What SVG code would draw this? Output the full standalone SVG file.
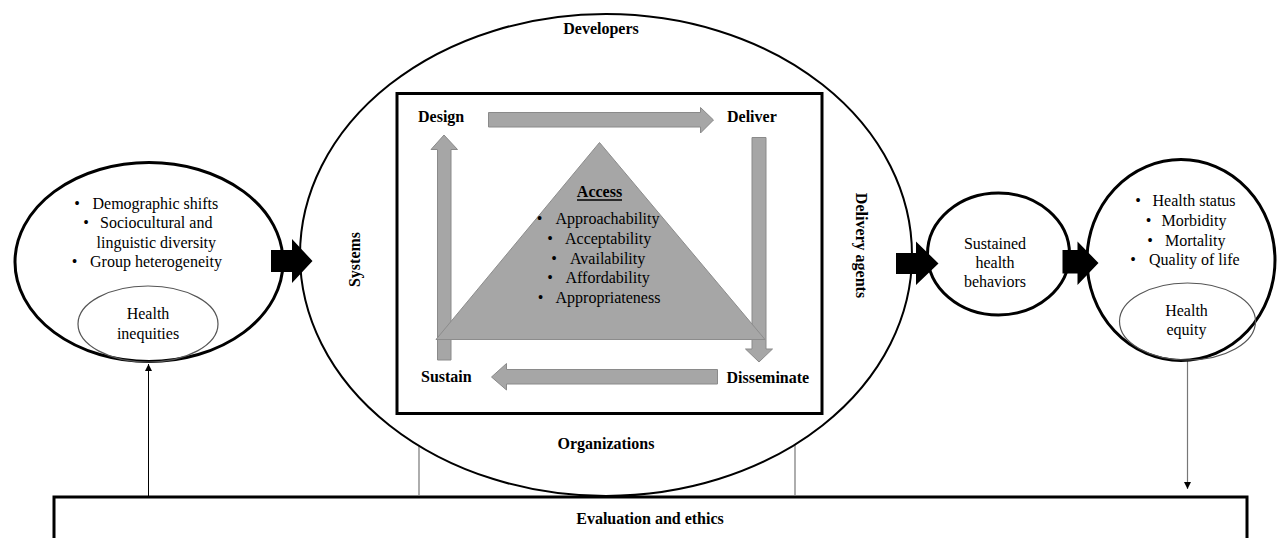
<svg xmlns="http://www.w3.org/2000/svg" width="1277" height="538" viewBox="0 0 1277 538">
  <style>
    text { font-family: "Liberation Serif", "Times New Roman", serif; font-size: 16px; fill: #000; }
    .b { font-weight: bold; }
    .m { text-anchor: middle; }
    .outer { fill: none; stroke: #000; stroke-width: 3; }
    .thin { fill: none; stroke: #555; stroke-width: 1.2; }
    .grey { fill: #a6a6a6; stroke: #8a8a8a; stroke-width: 1; }
    .flow { fill: #000; }
    .link { stroke: #000; stroke-width: 1; fill: none; }
    .linkg { stroke: #777; stroke-width: 1.2; fill: none; }
  </style>
  <defs>
    <marker id="tip" viewBox="0 0 10 10" refX="10" refY="5" markerWidth="7" markerHeight="7" markerUnits="userSpaceOnUse" orient="auto">
      <path d="M0,0 L10,5 L0,10 z" fill="#000"/>
    </marker>
  </defs>

  <rect width="1277" height="538" fill="#fff"/>

  <!-- Evaluation and ethics base bar -->
  <g id="evaluation">
    <rect x="54" y="497" width="1193" height="60" class="outer"/>
    <text x="650" y="524" class="b m">Evaluation and ethics</text>
  </g>

  <!-- Connectors -->
  <g id="connectors">
    <line x1="148.5" y1="496" x2="148.5" y2="364" class="link" marker-end="url(#tip)"/>
    <line x1="1187.5" y1="360" x2="1187.5" y2="489" class="linkg" marker-end="url(#tip)"/>
    <line x1="419" y1="445" x2="419" y2="495" class="linkg"/>
    <line x1="795" y1="445" x2="795" y2="495" class="linkg"/>
    <path class="flow" d="M271,250 H292 V239 L312.5,261 L292,283 V272 H271 Z"/>
    <path class="flow" d="M896,253 H916 V241.5 L938.5,263.5 L916,285 V274 H896 Z"/>
    <path class="flow" d="M1062.5,250 H1077.5 V241.5 L1098.5,263 L1077.5,285 V273.5 H1062.5 Z"/>
  </g>

  <!-- Context: population characteristics -->
  <g id="context">
    <ellipse cx="149" cy="262" rx="134" ry="99.5" class="outer"/>
    <text x="77" y="208.5" class="m">•</text>
    <text x="92.5" y="208.5">Demographic shifts</text>
    <text x="86" y="228" class="m">•</text>
    <text x="100" y="228">Sociocultural and</text>
    <text x="96.5" y="247.5">linguistic diversity</text>
    <text x="74.5" y="267" class="m">•</text>
    <text x="90" y="267">Group heterogeneity</text>
  </g>
  <g id="inequities">
    <ellipse cx="148" cy="324" rx="70" ry="38" class="thin"/>
    <text x="148" y="318.5" class="m">Health</text>
    <text x="148" y="338.5" class="m">inequities</text>
  </g>

  <!-- Central process ellipse -->
  <g id="process">
    <ellipse cx="606" cy="255" rx="306" ry="241" fill="none" stroke="#000" stroke-width="2"/>
    <text x="601" y="34" class="b m">Developers</text>
    <text x="606" y="449" class="b m">Organizations</text>
    <text class="b m" transform="translate(359.5,259.5) rotate(-90)">Systems</text>
    <text class="b m" transform="translate(855.5,245.5) rotate(90)">Delivery agents</text>
    <rect x="397" y="93.5" width="425" height="320" fill="none" stroke="#000" stroke-width="3"/>
  </g>

  <!-- Design / deliver / disseminate / sustain cycle -->
  <g id="cycle">
    <path class="grey" d="M488.5,112.5 H700.5 V107.5 L713.5,120 L700.5,133 V127 H488.5 Z"/>
    <path class="grey" d="M752,137.5 H766 V349 H772.5 L759,362 L745.5,349 H752 Z"/>
    <path class="grey" d="M717.5,369.5 V384 H506.5 V390 L491.5,377 L506.5,363.5 V369.5 Z"/>
    <path class="grey" d="M437.5,360 V149.5 H431 L444,135 L457.5,149.5 H451 V360 Z"/>
    <text x="418" y="122" class="b">Design</text>
    <text x="727" y="122" class="b">Deliver</text>
    <text x="421" y="382" class="b">Sustain</text>
    <text x="726.5" y="382.5" class="b">Disseminate</text>
  </g>

  <!-- Access triangle -->
  <g id="access">
    <path d="M599.5,142.5 L765,339.5 L436,339.5 Z" fill="#a6a6a6" stroke="#8c8c8c" stroke-width="1"/>
    <text x="599.5" y="197" class="b m">Access</text>
    <line x1="577" y1="200" x2="622" y2="200" stroke="#000" stroke-width="1.5"/>
    <text x="539.5" y="224" class="m">•</text>
    <text x="555.5" y="224">Approachability</text>
    <text x="550" y="244" class="m">•</text>
    <text x="565" y="244">Acceptability</text>
    <text x="554" y="263.5" class="m">•</text>
    <text x="570" y="263.5">Availability</text>
    <text x="550" y="283" class="m">•</text>
    <text x="565.5" y="283">Affordability</text>
    <text x="540.5" y="302.5" class="m">•</text>
    <text x="555.5" y="302.5">Appropriateness</text>
  </g>

  <!-- Behaviour outcome -->
  <g id="behaviors">
    <ellipse cx="998.5" cy="254" rx="71" ry="61" class="outer"/>
    <text x="995" y="248.5" class="m">Sustained</text>
    <text x="995" y="267.5" class="m">health</text>
    <text x="995" y="287" class="m">behaviors</text>
  </g>

  <!-- Health outcomes -->
  <g id="outcomes">
    <ellipse cx="1181" cy="260" rx="94" ry="100.5" class="outer"/>
    <text x="1138" y="206" class="m">•</text>
    <text x="1152.5" y="206">Health status</text>
    <text x="1148.5" y="226" class="m">•</text>
    <text x="1161.5" y="226">Morbidity</text>
    <text x="1150" y="245.5" class="m">•</text>
    <text x="1165" y="245.5">Mortality</text>
    <text x="1133" y="265" class="m">•</text>
    <text x="1149" y="265">Quality of life</text>
  </g>
  <g id="equity">
    <ellipse cx="1187.5" cy="321.5" rx="68" ry="38.5" class="thin"/>
    <text x="1186.5" y="315.5" class="m">Health</text>
    <text x="1186.5" y="334.5" class="m">equity</text>
  </g>
</svg>
